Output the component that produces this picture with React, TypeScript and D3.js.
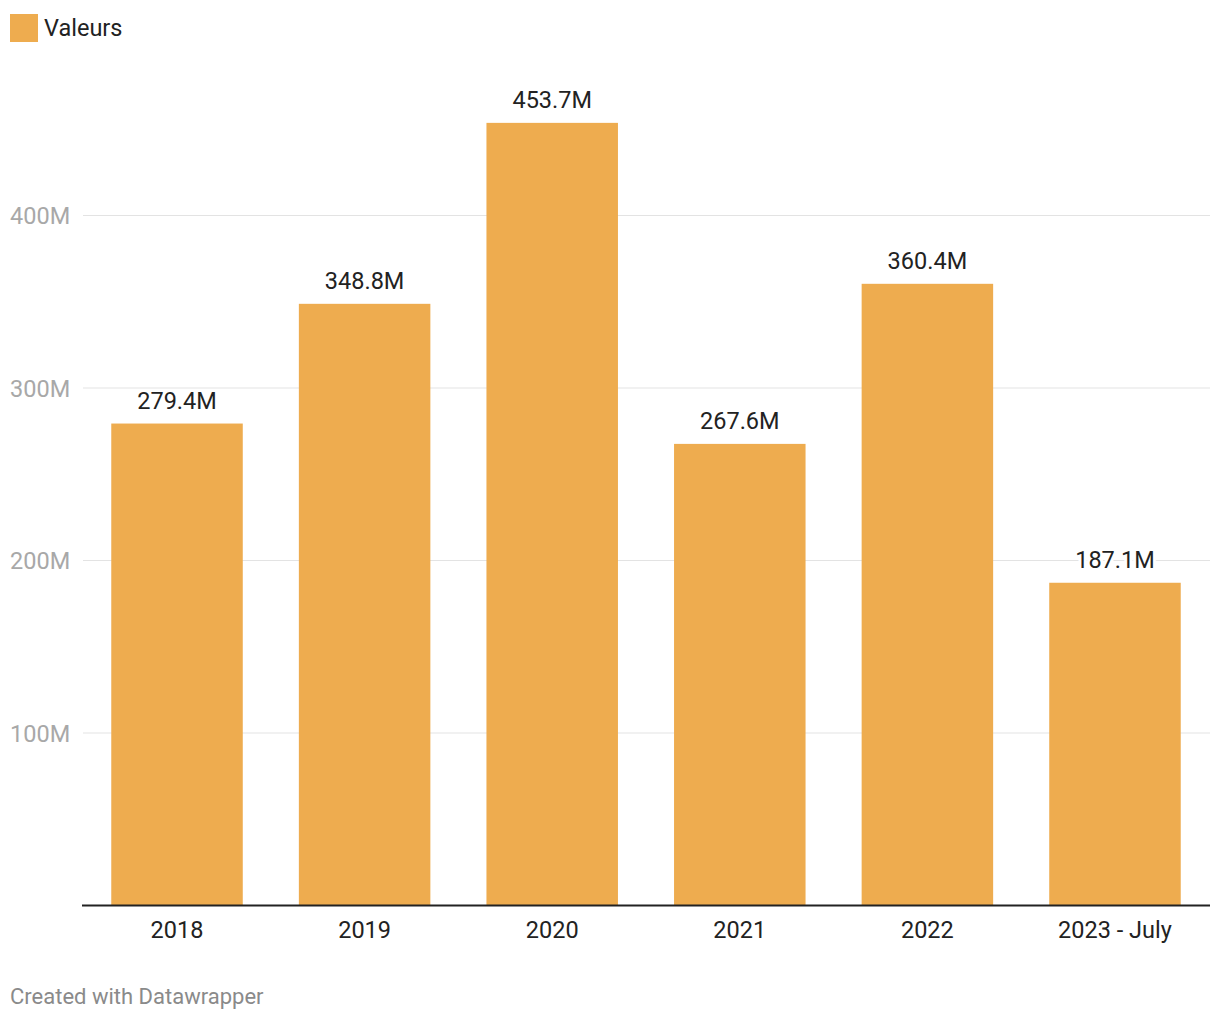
import React from "react";
import * as d3 from "d3";

const categories = ["2018", "2019", "2020", "2021", "2022", "2023 - July"];
const values = [279.4, 348.8, 453.7, 267.6, 360.4, 187.1];
const valueLabels = ["279.4M", "348.8M", "453.7M", "267.6M", "360.4M", "187.1M"];
const yTicks = [100, 200, 300, 400];
const legendLabel = "Valeurs";
const footer = "Created with Datawrapper";

const W = 1220;
const H = 1020;
const BAR = "#eeac4f";
const FONT = "Roboto, 'Noto Sans', sans-serif";

export default function App() {
  const x = d3
    .scaleBand<string>()
    .domain(categories)
    .range([82, 1210])
    .paddingInner(0.299)
    .paddingOuter(0.156);
  const y = d3.scaleLinear().domain([0, 400]).range([905.5, 215.5]);

  return (
    <svg
      width={W}
      height={H}
      style={{ position: "absolute", left: 0, top: 0, background: "#fff" }}
      fontFamily={FONT}
    >
      <rect x={10} y={14} width={28} height={28} fill={BAR} />
      <text x={44} y={36} fontSize={23.5} fill="#222">
        {legendLabel}
      </text>

      {yTicks.map((t) => (
        <g key={t}>
          <line x1={83} x2={1210} y1={y(t)} y2={y(t)} stroke="#e3e3e3" strokeWidth={1.2} />
          <text x={10} y={y(t) + 8.5} fontSize={23.5} fill="#a8a8a8">
            {t}M
          </text>
        </g>
      ))}

      {categories.map((c, i) => (
        <rect
          key={c}
          x={x(c)}
          y={y(values[i])}
          width={x.bandwidth()}
          height={y(0) - y(values[i])}
          fill={BAR}
        />
      ))}

      {categories.map((c, i) => (
        <text
          key={c}
          x={(x(c) as number) + x.bandwidth() / 2}
          y={y(values[i]) - 14.5}
          fontSize={23.5}
          fill="#222"
          textAnchor="middle"
          stroke="#fff"
          strokeWidth={6}
          paintOrder="stroke"
          strokeLinejoin="round"
        >
          {valueLabels[i]}
        </text>
      ))}

      <line x1={82} x2={1210} y1={y(0)} y2={y(0)} stroke="#222" strokeWidth={2} />

      {categories.map((c) => (
        <text
          key={c}
          x={(x(c) as number) + x.bandwidth() / 2}
          y={938}
          fontSize={23.5}
          fill="#222"
          textAnchor="middle"
        >
          {c}
        </text>
      ))}

      <text x={10} y={1004} fontSize={22} fill="#8a8a8a">
        {footer}
      </text>
    </svg>
  );
}
